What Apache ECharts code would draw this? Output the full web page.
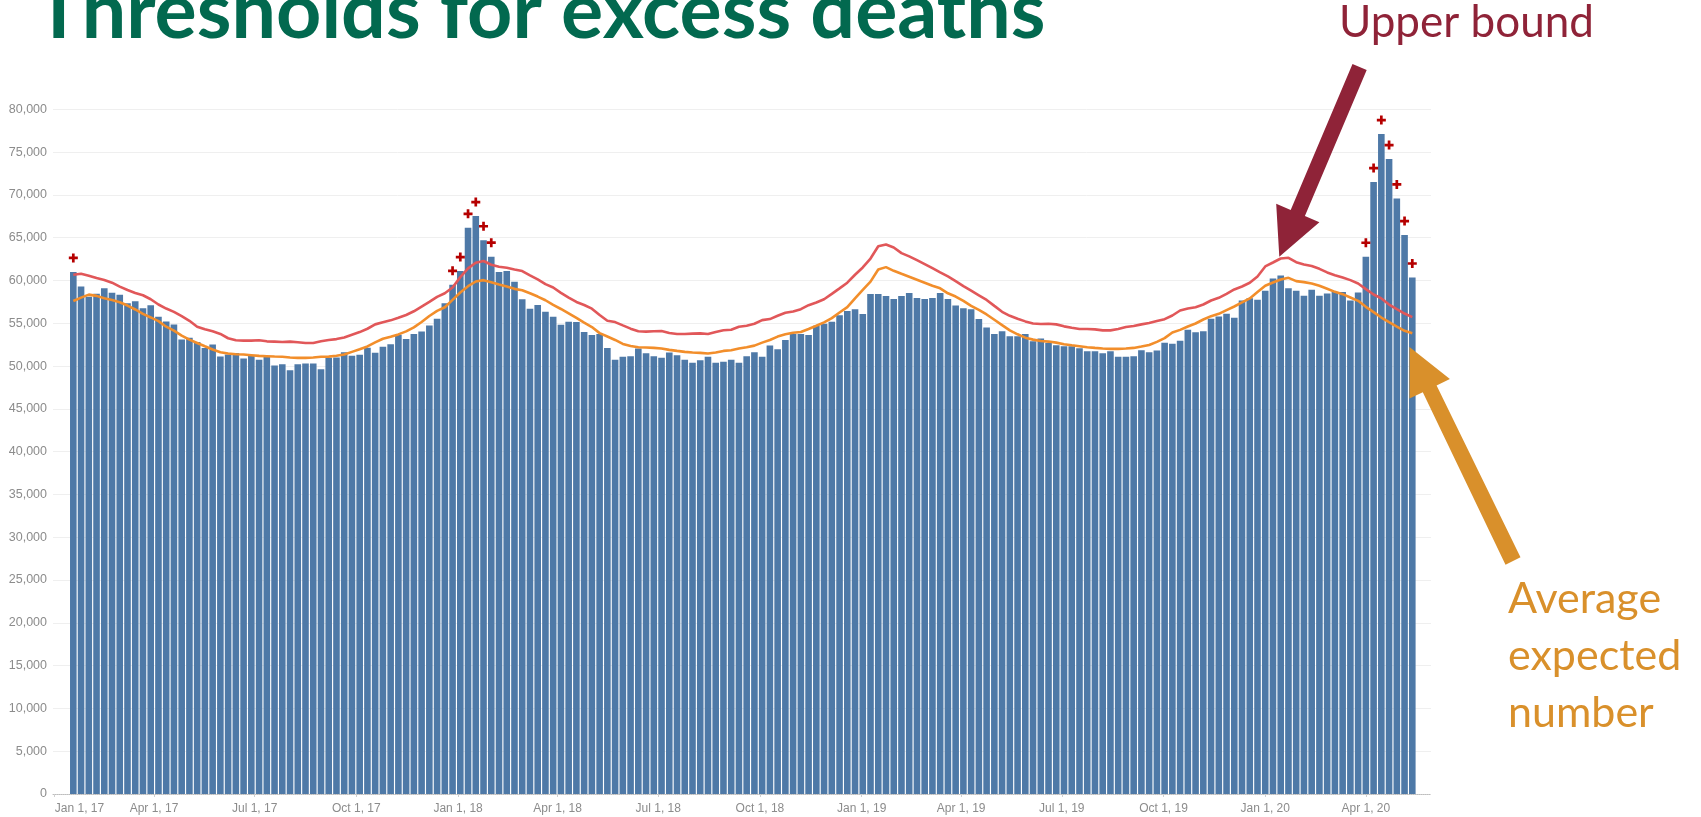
<!DOCTYPE html>
<html><head><meta charset="utf-8">
<script src="https://cdn.jsdelivr.net/npm/echarts@6/dist/echarts.min.js"></script>
<style>html,body{margin:0;padding:0;background:#fff}#c{width:1701px;height:817px}</style>
</head><body><div id="c"></div>
<script>
// ---------- data ----------
const firstWeek = Date.UTC(2017, 0, 18);   // first weekly bar
const deaths = [
61000,59300,58100,58450,59100,58570,58340,57330,57560,56760,
57100,55760,55200,54850,53100,53300,52800,52120,52520,51110,
51340,51520,50870,51260,50730,51130,50080,50200,49500,50200,
50310,50310,49620,50970,51000,51600,51200,51330,52150,51550,
52250,52550,53650,53150,53740,54050,54750,55540,57340,59490,
61100,66150,67520,64700,62780,60980,61100,59840,57810,56710,
57140,56360,55770,54830,55180,55150,53970,53620,53740,52100,
50730,51080,51160,52050,51500,51160,50960,51580,51270,50730,
50380,50690,51080,50380,50500,50730,50380,51160,51620,51080,
52390,51970,53050,53750,53750,53630,54710,54950,55180,55950,
56420,56650,56070,58430,58430,58200,57850,58200,58540,57960,
57850,57960,58540,57850,57070,56760,56650,55490,54520,53750,
54060,53480,53480,53750,52900,53210,52700,52430,52320,52320,
52080,51740,51740,51500,51740,51080,51080,51160,51850,51600,
51830,52710,52600,52950,54230,53960,54080,55520,55790,56100,
55640,57660,57930,57740,58790,60230,60580,59100,58790,58210,
58910,58210,58480,58640,58640,57660,58600,62770,71500,77110,
74190,69590,65300,60350
];
const upperBound = [
60670,60790,60560,60280,60050,59740,59280,58890,58540,58270,
57810,57190,56720,56330,55830,55290,54600,54290,54060,53750,
53250,53010,52970,52970,53010,52890,52860,52820,52860,52780,
52700,52700,52900,53050,53150,53340,53660,53970,54360,54870,
55110,55340,55650,55970,56400,56950,57490,58080,58510,59180,
60390,61410,62070,62270,61840,61610,61490,61290,61100,60590,
60120,59570,59180,58550,58000,57490,57140,56710,55970,55300,
55140,54750,54370,54060,54020,54060,54100,53860,53750,53750,
53790,53820,53750,53980,54180,54250,54600,54720,54950,55370,
55490,55870,56220,56380,56650,57110,57420,57810,58430,59080,
59740,60670,61520,62560,64000,64200,63850,63200,62820,62370,
61910,61440,60940,60480,59930,59350,58810,58270,57730,57030,
56340,55870,55530,55220,54980,54910,54950,54870,54640,54480,
54330,54330,54290,54170,54170,54330,54560,54680,54870,55030,
55270,55480,55910,56490,56730,56880,57190,57660,57970,58440,
58950,59300,59730,60470,61640,62100,62570,62650,62140,61870,
61680,61360,60940,60620,60350,60040,59650,58990,58360,57900,
57190,56650,56140,55710
];
const averageExpected = [
57600,58000,58350,58200,57920,57730,57460,57070,56610,56100,
55680,55250,54600,54130,53550,53090,52700,52310,51930,51620,
51460,51380,51350,51270,51190,51150,51110,51080,51000,50960,
50960,51000,51080,51100,51200,51350,51660,51970,52290,52760,
53190,53420,53700,54050,54520,55150,55850,56440,56870,57730,
58590,59330,59880,60040,59800,59530,59300,59020,58860,58510,
58120,57690,57140,56670,56160,55620,55070,54560,53850,53450,
53050,52590,52350,52200,52160,52120,52050,51890,51770,51660,
51580,51540,51470,51580,51770,51850,52050,52200,52390,52740,
53050,53440,53710,53900,53980,54330,54710,55100,55600,56260,
56880,57920,58890,59860,61290,61560,61130,60780,60440,60090,
59740,59390,59080,58500,58120,57610,57030,56570,56030,55410,
54790,54170,53710,53320,53090,52930,52860,52740,52550,52430,
52320,52200,52120,52050,52010,52010,52050,52120,52280,52470,
52830,53260,53920,54230,54620,54970,55440,55830,56100,56530,
56960,57430,57900,58640,59380,59770,60120,60310,59920,59810,
59650,59380,59030,58670,58400,58010,57620,56920,56300,55670,
55130,54620,54120,53840
];
// weeks (1-based) marked with "+" (count above the upper bound)
const flaggedWeeks = [1, 50, 51, 52, 53, 54, 55, 168, 169, 170, 171, 172, 173, 174];
const tickDates = ['2017-01-01','2017-04-01','2017-07-01','2017-10-01',
                   '2018-01-01','2018-04-01','2018-07-01','2018-10-01',
                   '2019-01-01','2019-04-01','2019-07-01','2019-10-01',
                   '2020-01-01','2020-04-01'];
const monthNames = ['Jan','Feb','Mar','Apr','May','Jun','Jul','Aug','Sep','Oct','Nov','Dec'];

// ---------- build ----------
const DAY = 86400000;
const weeks = deaths.map((_, i) => firstWeek + i * 7 * DAY);
const tickTimes = tickDates.map(s => Date.parse(s + 'T00:00:00Z'));
const fmtTick = t => {
  const d = new Date(t);
  return monthNames[d.getUTCMonth()] + ' ' + d.getUTCDate() + ', ' + String(d.getUTCFullYear()).slice(2);
};

const chart = echarts.init(document.getElementById('c'), null, {renderer: 'canvas'});
const axisTextColor = '#8c8c8c';
const plusPath = 'path://M3.5,0H6.5V3.5H10V6.5H6.5V10H3.5V6.5H0V3.5H3.5Z';

chart.setOption({
  animation: false,
  backgroundColor: '#ffffff',
  grid: {left: 53, right: 270, top: 109.3, bottom: 23, containLabel: false},
  xAxis: {
    type: 'value',
    min: Date.UTC(2016, 11, 30, 15),
    max: Date.UTC(2020, 4, 29, 22),
    axisLine: {show: true, lineStyle: {color: '#bdbdbd', type: 'dotted', width: 1}},
    axisTick: {show: true, customValues: tickTimes, length: 3, lineStyle: {color: '#cfcfcf'}},
    axisLabel: {
      customValues: tickTimes,
      color: axisTextColor, fontSize: 12, fontFamily: 'Liberation Sans', margin: 9,
      formatter: (v) => {
        const s = fmtTick(v);
        return v === tickTimes[0] ? '{first|' + s + '}' : s;
      },
      rich: {first: {padding: [0, 0, 0, 50], color: axisTextColor, fontSize: 12, fontFamily: 'Liberation Sans'}}
    },
    splitLine: {show: false}
  },
  yAxis: {
    type: 'value', min: 0, max: 80000, interval: 5000,
    axisLine: {show: false}, axisTick: {show: false},
    axisLabel: {color: axisTextColor, fontSize: 12.5, fontFamily: 'Liberation Sans', margin: 6,
      formatter: v => v.toLocaleString('en-US')},
    splitLine: {show: true, lineStyle: {color: '#efefef', width: 1}}
  },
  series: [
    {
      name: 'Deaths', type: 'bar',
      data: weeks.map((t, i) => [t, deaths[i]]),
      barWidth: 6.6,
      itemStyle: {color: '#4e79a7'},
      z: 2
    },
    {
      name: 'Upper bound', type: 'line',
      data: weeks.map((t, i) => [t, upperBound[i]]),
      showSymbol: false, smooth: false,
      lineStyle: {color: '#e15759', width: 2.6},
      z: 4
    },
    {
      name: 'Average expected', type: 'line',
      data: weeks.map((t, i) => [t, averageExpected[i]]),
      showSymbol: false, smooth: false,
      lineStyle: {color: '#f28e2b', width: 2.6},
      z: 4
    },
    {
      name: 'Above threshold', type: 'scatter',
      data: flaggedWeeks.map(w => [weeks[w - 1], deaths[w - 1]]),
      symbol: plusPath, symbolSize: 9, symbolOffset: [0, -14],
      itemStyle: {color: '#b50000', opacity: 1},
      z: 5
    }
  ],
  graphic: [
    {type: 'text', left: 35, top: -27, z: 10,
     style: {text: 'Thresholds for excess deaths', fill: '#02694f',
             font: 'bold 79px Lato'}},
    {type: 'text', left: 1339, top: 1, z: 10,
     style: {text: 'Upper bound', fill: '#8f2338', font: '44px Lato'}},
    {type: 'text', left: 1508, top: 571, z: 10,
     style: {text: 'Average\nexpected\nnumber', fill: '#d9902b', font: '43px Lato', lineHeight: 57}},
    {type: 'polygon', z: 10,
     shape: {points: [[1366.7,70.0],[1304.9,216],[1319.4,222.2],[1279.3,256.7],[1276.2,203.8],[1290.7,210],[1352.5,64]]},
     style: {fill: '#8f2338'}},
    {type: 'polygon', z: 10,
     shape: {points: [[1409.5,347],[1449.9,379],[1436.6,385.4],[1520.5,557.3],[1505.5,564.7],[1422.8,392.2],[1409.5,398.6]]},
     style: {fill: '#d9902b'}}
  ]
});
</script>
</body></html>
